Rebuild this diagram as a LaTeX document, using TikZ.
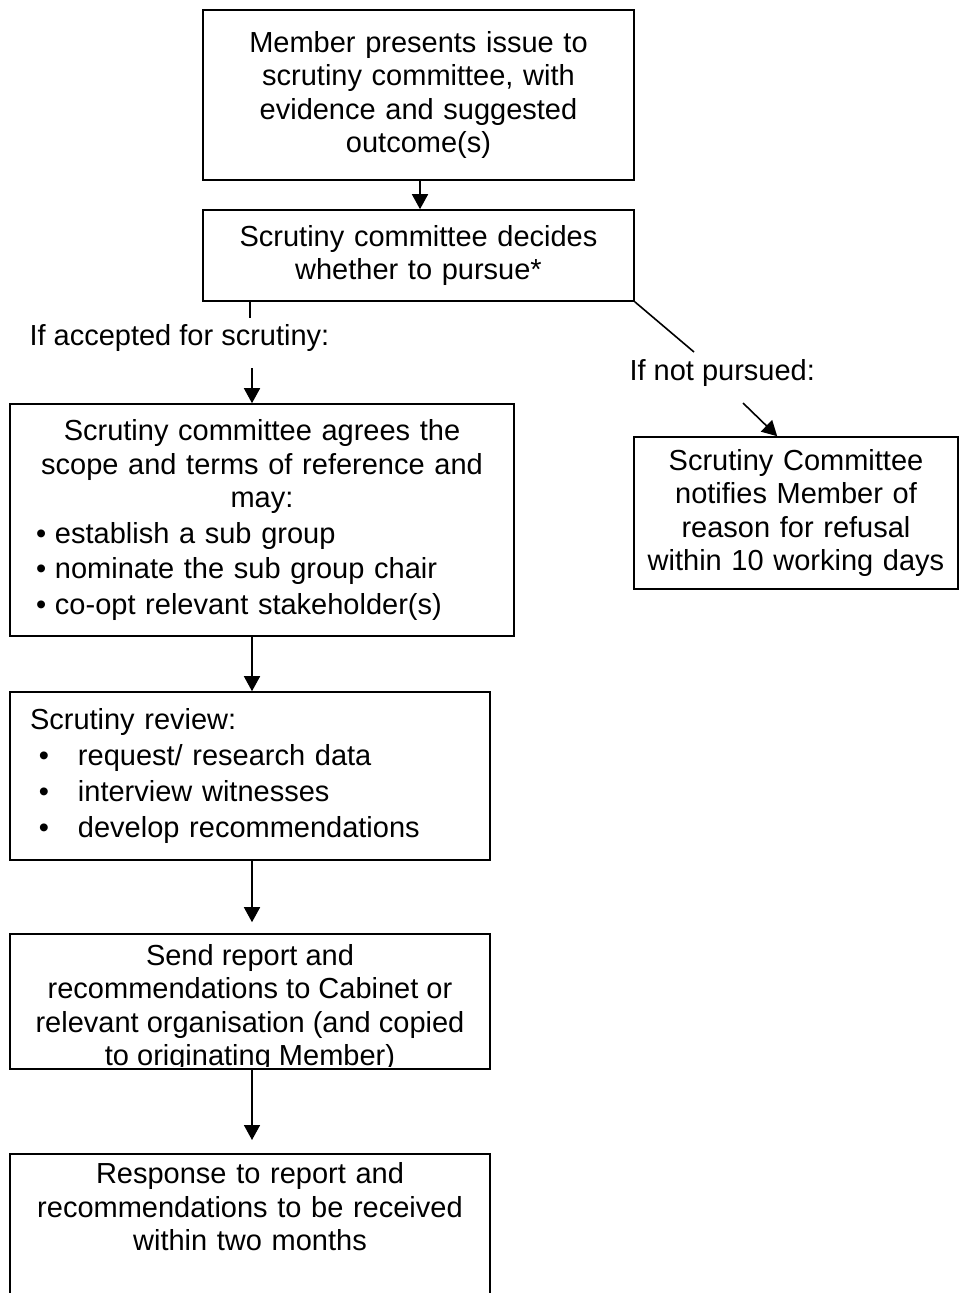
\documentclass[tikz,border=0pt]{standalone}
\usepackage{fontspec}
\setmainfont{Liberation Sans}
\usetikzlibrary{positioning,arrows.meta}

\begin{document}
\begin{tikzpicture}[
    x=1pt, y=-1pt,
    every node/.style={font=\fontsize{29}{33.5}\selectfont},
    stage/.style={draw, line width=1.6pt, align=center, inner xsep=12pt, inner ysep=4pt},
    link/.style={line width=1.6pt, -{Triangle[length=15pt,width=16pt]}},
    stub/.style={line width=1.6pt},
]
\useasboundingbox (0,0) rectangle (959,1293);
\coordinate (spine) at (252,0);

\node[stage, text width=407pt, minimum width=431pt, minimum height=170pt] (member) at (418.5,95)
    {Member presents issue to\\ scrutiny committee, with\\ evidence and suggested\\ outcome(s)};
\node[stage, text width=407pt, minimum width=431pt, minimum height=91pt] (decide) at (418.5,255.5)
    {Scrutiny committee decides\\ whether to pursue*};

% accepted branch
\coordinate (accstub) at (250,318);
\node[anchor=west] (accepted) at (26,338) {If accepted for scrutiny:};
\coordinate (acctail) at (252,368);

\node[stage, inner xsep=26pt, text width=452pt, minimum width=504pt, minimum height=232pt] (agree) at (262,520)
    {Scrutiny committee agrees the\\ scope and terms of reference and\\ may:\\[2pt]
     \makebox[452pt][l]{\makebox[19pt][l]{\textbullet}establish a sub group}\\[2pt]
     \makebox[452pt][l]{\makebox[19pt][l]{\textbullet}nominate the sub group chair}\\[2pt]
     \makebox[452pt][l]{\makebox[19pt][l]{\textbullet}co-opt relevant stakeholder(s)}};

% refused branch
\coordinate (notstub) at (694,352);
\node[anchor=west] (notpursued) at (626,373) {If not pursued:};
\coordinate (nottail) at (743,403);
\node[stage, text width=300pt, minimum width=324pt, minimum height=152pt] (notify) at (796,513)
    {Scrutiny Committee\\ notifies Member of\\ reason for refusal\\ within 10 working days};

\node[stage, align=left, inner xsep=20pt, text width=440pt, minimum width=480pt, minimum height=168pt] (review) at (250,776)
    {Scrutiny review:\\[2.5pt]
     \hspace*{9pt}\makebox[39pt][l]{\textbullet}request/ research data\\[2.5pt]
     \hspace*{9pt}\makebox[39pt][l]{\textbullet}interview witnesses\\[2.5pt]
     \hspace*{9pt}\makebox[39pt][l]{\textbullet}develop recommendations};

\node[stage, minimum width=480pt, minimum height=135pt] (send) at (250,1001.5) {};
\begin{scope}
    \clip ([yshift=3pt]send.south west) rectangle (send.north east);
    \node[align=center, anchor=north, inner sep=0pt] (sendtext) at ([yshift=-11pt]send.north)
        {Send report and\\ recommendations to Cabinet or\\ relevant organisation (and copied\\ to originating Member)};
\end{scope}

\node[stage, anchor=north, inner ysep=9pt, text width=456pt, minimum width=480pt] (response) at (250,1153)
    {Response to report and\\ recommendations to be received\\ within two months\\ \mbox{}\\ \mbox{}};

% connectors
\draw[link] (member.south -| 420,0) -- (decide.north -| 420,0);
\draw[stub] (decide.south -| accstub) -- (accstub);
\draw[link] (acctail) -- (agree.north -| acctail);
\draw[stub] (decide.south east) -- (notstub);
\draw[link] (nottail) -- ([xshift=144pt]notify.north west);
\draw[link] (agree.south -| spine) -- (review.north -| spine);
\draw[link, shorten >=11pt] (review.south -| spine) -- (send.north -| spine);
\draw[link, shorten >=13pt] (send.south -| spine) -- (response.north -| spine);
\end{tikzpicture}
\end{document}
